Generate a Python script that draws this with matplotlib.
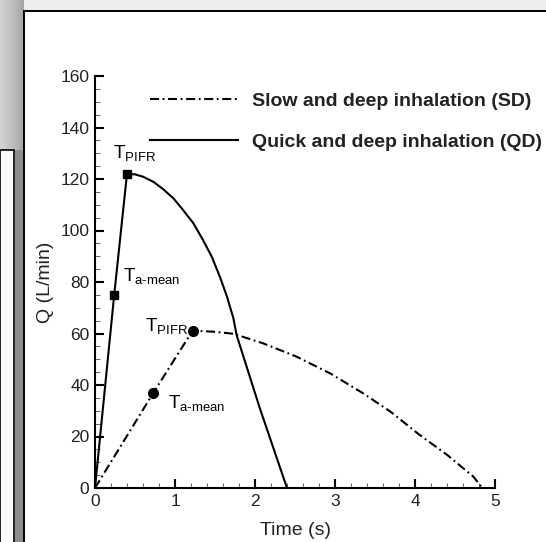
import numpy as np
import matplotlib
matplotlib.use('Agg')
import matplotlib.pyplot as plt
from matplotlib.patches import Rectangle

plt.rcParams['font.family'] = ['Liberation Sans', 'DejaVu Sans']
plt.rcParams['mathtext.fontset'] = 'custom'
plt.rcParams['mathtext.rm'] = 'Liberation Sans'
plt.rcParams['lines.scale_dashes'] = False

# quick and deep inhalation (QD), solid line
qd_t = [0.0, 0.24, 0.40, 0.50, 0.60, 0.73, 0.85, 0.98, 1.10, 1.23, 1.35, 1.46, 1.56,
        1.65, 1.73, 1.77, 2.06, 2.40]
qd_q = [0.0, 75.0, 122.0, 121.8, 120.9, 118.9, 116.1, 112.5, 108.0, 102.8, 96.3, 89.8, 82.1,
        74.3, 65.9, 59.4, 31.0, 0.0]
# slow and deep inhalation (SD), dash-dot line
sd_t = [0.0, 0.73, 1.22, 1.48, 1.73, 2.10, 2.52, 2.94, 3.35, 3.70, 4.05, 4.40, 4.73, 4.83]
sd_q = [0.0, 37.0, 61.1, 60.7, 59.9, 56.2, 51.0, 44.5, 36.8, 29.5, 20.8, 12.9, 4.4, 0.5]

# characteristic times (T_a-mean, T_PIFR)
qd_mark_t = [0.24, 0.40]
qd_mark_q = [75.0, 122.0]
sd_mark_t = [0.73, 1.22]
sd_mark_q = [37.0, 61.1]

W, H = 546, 542
fig = plt.figure(figsize=(W/100, H/100), dpi=100)
fig.patch.set_facecolor('#eeeeee')

# screenshot background: window behind and main white card
bg = fig.add_axes([0, 0, 1, 1], zorder=-5)
bg.set_xlim(0, W)
bg.set_ylim(H, 0)
bg.axis('off')
grad = np.linspace(0, 1, 60)[None, :]
bg.imshow(np.tile(grad, (150, 1)), extent=(0, 24, 150, 0), cmap='Greys', vmin=-1.5, vmax=4.0,
          aspect='auto', zorder=0)
bg.add_patch(Rectangle((0, 150), 13.5, H, facecolor='#fbfbfb', edgecolor='black', lw=1.2, zorder=1))
bg.add_patch(Rectangle((14.5, 150), 9, H, facecolor='#8e8e8e', edgecolor='none', zorder=1))
bg.add_patch(Rectangle((24, 11), W, H, facecolor='white', edgecolor='black', lw=1.4, zorder=2))

ax = fig.add_axes([95/W, 1-488/H, 400/W, (488-76)/H])
ax.set_facecolor('none')

ln_sd, = ax.plot(sd_t, sd_q, color='black', lw=1.5, dashes=(6.5, 2.6, 1.3, 2.6))
ln_qd, = ax.plot(qd_t, qd_q, color='black', lw=1.5)
ax.plot(qd_mark_t, qd_mark_q, 's', color='black', ms=5.5, ls='none')
ax.plot(sd_mark_t, sd_mark_q, 'o', color='black', ms=7, ls='none')

fs_t = 13.5
ax.annotate(r'$\mathrm{T}_{\mathrm{PIFR}}$', xy=(qd_mark_t[1], qd_mark_q[1]), xytext=(-10, 10.8),
            textcoords='offset points', fontsize=fs_t, ha='left', va='baseline')
ax.annotate(r'$\mathrm{T}_{\text{a-mean}}$', xy=(qd_mark_t[0], qd_mark_q[0]), xytext=(6, 9.5),
            textcoords='offset points', fontsize=fs_t, ha='left', va='baseline')
ax.annotate(r'$\mathrm{T}_{\mathrm{PIFR}}$', xy=(sd_mark_t[1], sd_mark_q[1]), xytext=(-34, -0.7),
            textcoords='offset points', fontsize=fs_t, ha='left', va='baseline')
ax.annotate(r'$\mathrm{T}_{\text{a-mean}}$', xy=(sd_mark_t[0], sd_mark_q[0]), xytext=(10.8, -11.2),
            textcoords='offset points', fontsize=fs_t, ha='left', va='baseline')

ax.set_xlim(0, 5)
ax.set_ylim(0, 160)
ax.set_xticks(np.arange(0, 6, 1))
ax.set_yticks(np.arange(0, 161, 20))
ax.set_xticks(np.arange(0, 5.01, 0.2), minor=True)
ax.set_yticks(np.arange(0, 161, 5), minor=True)
ax.spines['top'].set_visible(False)
ax.spines['right'].set_visible(False)
for s in ['left', 'bottom']:
    ax.spines[s].set_linewidth(1.5)
ax.tick_params(which='major', direction='in', length=6.5, width=1.5, labelsize=12.5,
               labelcolor='#222222', pad=4)
ax.tick_params(which='minor', direction='in', length=3.6, width=0.7, color='#666666')
ax.set_xlabel('Time (s)', fontsize=14, color='#222222', labelpad=10)
ax.set_ylabel('Q (L/min)', fontsize=14, color='#222222', labelpad=5)

fig.legend([ln_sd, ln_qd], ['Slow and deep inhalation (SD)', 'Quick and deep inhalation (QD)'],
           loc='upper left', bbox_to_anchor=(150/W, 1-92/H), frameon=False,
           prop={'weight': 'bold', 'size': 14}, handlelength=4.5, handletextpad=0.72,
           labelspacing=1.22, borderpad=0, borderaxespad=0, labelcolor='#222222')

fig.savefig('out.png', dpi=100, facecolor=fig.get_facecolor())
